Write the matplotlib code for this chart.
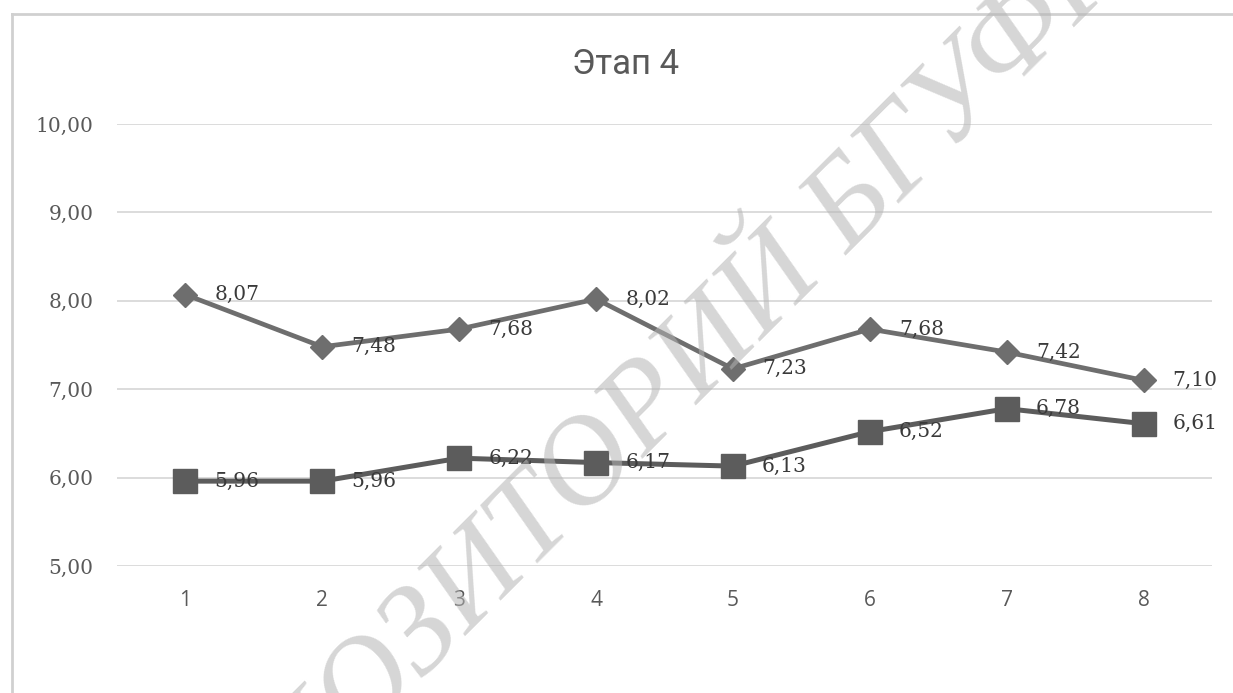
import matplotlib
matplotlib.use("Agg")
import matplotlib.pyplot as plt
from matplotlib.lines import Line2D

# Data
stages = [1, 2, 3, 4, 5, 6, 7, 8]
series_upper = [8.07, 7.48, 7.68, 8.02, 7.23, 7.68, 7.42, 7.10]
series_lower = [5.96, 5.96, 6.22, 6.17, 6.13, 6.52, 6.78, 6.61]
y_ticks = [5, 6, 7, 8, 9, 10]
title_text = "Этап 4"
watermark_text = "РЕПОЗИТОРИЙ БГУФК"

DPI = 100
W, H = 1233, 693
fig = plt.figure(figsize=(W / DPI, H / DPI), dpi=DPI)
fig.patch.set_facecolor("white")

# plot area in figure fractions
left, right = 117 / W, 1212 / W
bottom, top = 1 - 566 / H, 1 - 124 / H
ax = fig.add_axes([left, bottom, right - left, top - bottom])

ax.set_xlim(0.5, 8.5)
ax.set_ylim(5, 10)
ax.set_yticks(y_ticks)
ax.set_yticklabels([f"{v:.2f}".replace(".", ",") for v in y_ticks],
                   fontfamily="DejaVu Serif", fontsize=14.5, color="#595959")
ax.set_xticks(stages)
ax.set_xticklabels([str(s) for s in stages],
                   fontfamily="Open Sans", fontsize=15, color="#595959")
ax.tick_params(axis="y", length=0, pad=17)
ax.tick_params(axis="x", length=0, pad=17)
for sp in ax.spines.values():
    sp.set_visible(False)
ax.grid(axis="y", color="#d9d9d9", linewidth=1.3)
ax.set_axisbelow(True)

upper_color = "#6e6e6e"
lower_color = "#5c5c5c"
ax.plot(stages, series_upper, color=upper_color, linewidth=3.4,
        marker="D", markersize=12.5, markerfacecolor=upper_color,
        markeredgecolor=upper_color, zorder=3, clip_on=False)
ax.plot(stages, series_lower, color=lower_color, linewidth=3.6,
        marker="s", markersize=17, markerfacecolor=lower_color,
        markeredgecolor=lower_color, zorder=3, clip_on=False)

for xs, ys in ((stages, series_upper), (stages, series_lower)):
    for x, y in zip(xs, ys):
        ax.annotate(f"{y:.2f}".replace(".", ","), (x, y),
                    xytext=(21, 0), textcoords="offset points",
                    ha="left", va="center", fontfamily="DejaVu Serif",
                    fontsize=14.5, color="#3a3a3a", zorder=4)

# title
fig.text(626 / W, 1 - 64 / H, title_text, ha="center", va="center",
         fontfamily="Roboto", fontsize=25, color="#595959")

# chart area border (top and left edges)
fig.add_artist(Line2D([12 / W, 1.0], [1 - 14 / H, 1 - 14 / H],
                      transform=fig.transFigure, color="#d0d0d0", linewidth=2))
fig.add_artist(Line2D([12 / W, 12 / W], [0.0, 1 - 14 / H],
                      transform=fig.transFigure, color="#d0d0d0", linewidth=2))

# diagonal watermark
fig.text(640 / W, 1 - 420 / H, watermark_text, rotation=45,
         rotation_mode="anchor", ha="center", va="center",
         fontfamily="Liberation Serif", fontstyle="italic", fontsize=90,
         color="#b4b4b4", alpha=0.55, zorder=10)

fig.savefig("out.png", dpi=DPI, facecolor="white")
